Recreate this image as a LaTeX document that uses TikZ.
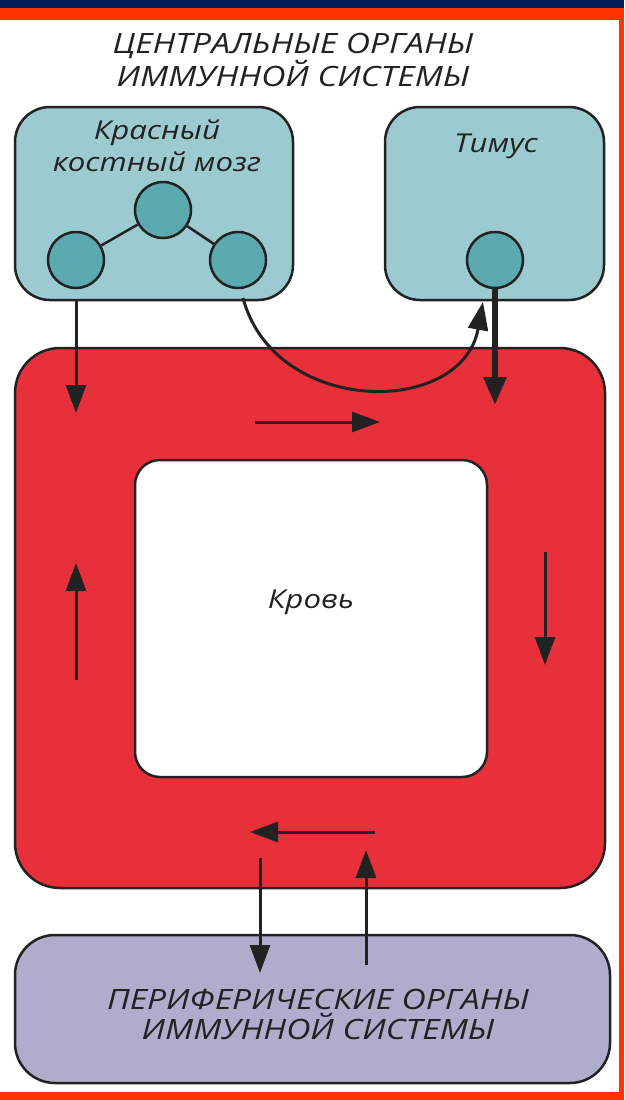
\documentclass[tikz,border=0pt]{standalone}
\usepackage{fontspec}
\setmainfont{Open Sans}[FakeStretch=1.2]
\usetikzlibrary{arrows.meta}
\definecolor{navyband}{HTML}{001E5A}
\definecolor{frameorange}{HTML}{FF3300}
\definecolor{tealbox}{HTML}{9BCBD0}
\definecolor{tealcell}{HTML}{5AAAAF}
\definecolor{bloodred}{HTML}{E8303A}
\definecolor{lavender}{HTML}{AEAECC}
\definecolor{ink}{HTML}{222222}
\tikzset{
  organ/.style={draw=ink, line width=2.5pt, fill=tealbox, rounded corners=35pt, inner sep=0pt},
  cell/.style={circle, draw=ink, line width=2.5pt, fill=tealcell, minimum size=56pt, inner sep=0pt},
  label/.style={text=ink, font=\fontsize{26}{32}\selectfont\itshape, inner sep=0pt, align=center},
  bigtext/.style={text=ink, font=\fontsize{28}{30}\selectfont\itshape, inner sep=0pt, align=center},
  arr/.style={draw=ink, line width=3pt, -{Triangle[length=28pt,width=20pt]}},
  thickarr/.style={draw=ink, line width=6pt, -{Triangle[length=28pt,width=22pt]}},
  link/.style={draw=ink, line width=2.5pt}
}
\begin{document}
\begin{tikzpicture}[x=1pt,y=-1pt]
\useasboundingbox (0,0) rectangle (624,1100);
\fill[white] (0,0) rectangle (624,1100);
\fill[navyband] (0,0) rectangle (624,8);
\fill[frameorange] (0,8) rectangle (624,20);
\fill[frameorange] (619,20) rectangle (624,1100);
\fill[frameorange] (0,1092) rectangle (624,1100);

% title
\node[bigtext] (title) at (293,60) {ЦЕНТРАЛЬНЫЕ ОРГАНЫ\\ИММУННОЙ СИСТЕМЫ};

% central organs
\node[organ, minimum width=278pt, minimum height=193pt] (lbox) at (154,203.5) {};
\node[organ, minimum width=219pt, minimum height=193pt] (tbox) at (494.5,203.5) {};
\node[label] (ltext) at (157,146) {Красный\\костный мозг};
\node[label] (ttext) at (496,146) {Тимус};

\node[cell] (mc) at (163,210) {};
\node[cell] (lc) at (76,260) {};
\node[cell] (rc) at (238,260) {};
\node[cell] (tc) at (495,260) {};
\draw[link] (mc) -- (lc);
\draw[link] (mc) -- (rc);

% blood
\node[draw=ink, line width=2.5pt, fill=bloodred, rounded corners=45pt, minimum width=590pt, minimum height=540pt, inner sep=0pt] (blood) at (310,618) {};
\node[draw=ink, line width=2.5pt, fill=white, rounded corners=25pt, minimum width=352pt, minimum height=317pt, inner sep=0pt] (inner) at (311,618.5) {};
\node[label] (btext) at (311,602) {Кровь};

% peripheral organs
\node[draw=ink, line width=2.5pt, fill=lavender, rounded corners=40pt, minimum width=595pt, minimum height=148pt, inner sep=0pt] (pbox) at (312.5,1009) {};
\node[bigtext] (ptext) at (318,1014) {ПЕРИФЕРИЧЕСКИЕ ОРГАНЫ\\ИММУННОЙ СИСТЕМЫ};

% coordinates
\coordinate (a1e) at (76,413);
\coordinate (cs) at (243,298);
\coordinate (ce) at (483,302);
\coordinate (t2e) at (495,405);
\coordinate (ts) at (255,422);
\coordinate (te) at (380,422);
\coordinate (rs) at (545,552);
\coordinate (re) at (545,665);
\coordinate (ls) at (76,680);
\coordinate (le) at (76,563);
\coordinate (bs) at (375,832);
\coordinate (be) at (250,832);
\coordinate (ds) at (260,858);
\coordinate (de) at (260,973);
\coordinate (us) at (366,965);
\coordinate (ue) at (366,850);

% arrows
\draw[arr] (lc |- lbox.south) -- (a1e);
\draw[arr] (cs) .. controls (275,417) and (462,417) .. (ce);
\draw[thickarr] (tc.south) -- (t2e);
\draw[arr] (ts) -- (te);
\draw[arr] (rs) -- (re);
\draw[arr] (ls) -- (le);
\draw[arr] (bs) -- (be);
\draw[arr] (ds) -- (de);
\draw[arr] (us) -- (ue);
\end{tikzpicture}
\end{document}
